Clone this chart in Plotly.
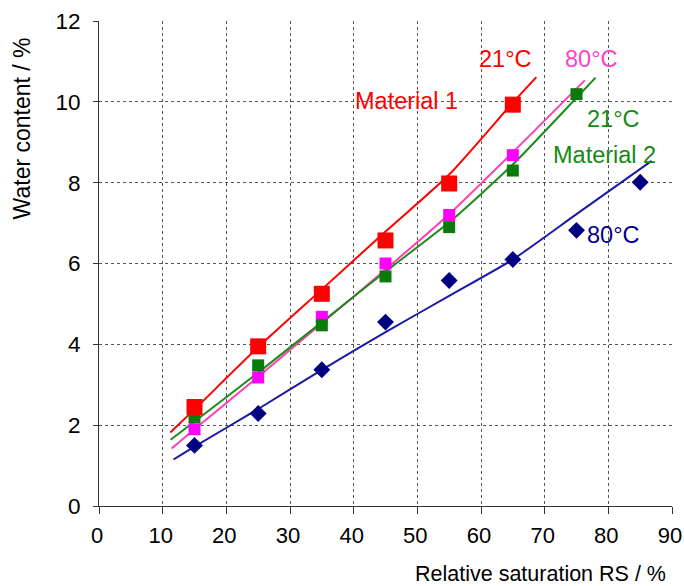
import plotly.graph_objects as go

# ---- measured data (x = relative saturation RS %, y = water content %) ----
x_m1 = [15, 25, 35, 45, 55, 65]
y_m1_21 = [2.45, 3.95, 5.25, 6.57, 7.98, 9.93]
y_m1_80 = [1.90, 3.18, 4.68, 6.00, 7.20, 8.68]

x_m2_21 = [15, 25, 35, 45, 55, 65, 75]
y_m2_21 = [2.20, 3.48, 4.47, 5.68, 6.90, 8.30, 10.19]

x_m2_80 = [15, 25, 35, 45, 55, 65, 75, 85]
y_m2_80 = [1.50, 2.29, 3.37, 4.55, 5.58, 6.10, 6.82, 8.01]

# ---- model curves ----
cx_m1_21 = [11.2, 15, 25, 35, 45, 55, 65, 68.7]
cy_m1_21 = [1.82, 2.39, 3.93, 5.36, 6.79, 8.20, 9.98, 10.61]

cx_m1_80 = [11.4, 15, 25, 35, 45, 55, 65, 76.3]
cy_m1_80 = [1.42, 1.90, 3.20, 4.52, 5.85, 7.22, 8.75, 10.53]

cx_m2_21 = [11.25, 15, 25, 35, 45, 55, 65, 75, 78.0]
cy_m2_21 = [1.64, 2.09, 3.30, 4.55, 5.80, 7.02, 8.45, 10.10, 10.60]

cx_m2_80 = [11.7, 15, 25, 35, 45, 55, 65, 75, 86.8]
cy_m2_80 = [1.15, 1.47, 2.40, 3.37, 4.30, 5.20, 6.10, 7.22, 8.54]

x_ticks = [0, 10, 20, 30, 40, 50, 60, 70, 80, 90]
y_ticks = [0, 2, 4, 6, 8, 10, 12]

FONT = "Liberation Sans, Arial, sans-serif"
RED = "#FF0000"
MAG = "#FF00FF"
PINK = "#FF3FB0"
GREEN_M = "#0A7A0A"
GREEN_L = "#1A8C1A"
NAVY = "#000080"
BLUE_L = "#1A1AA6"

fig = go.Figure()

# curves
for cx, cy, col in [(cx_m2_80, cy_m2_80, BLUE_L), (cx_m1_80, cy_m1_80, PINK),
                    (cx_m2_21, cy_m2_21, GREEN_L), (cx_m1_21, cy_m1_21, RED)]:
    fig.add_trace(go.Scatter(x=cx, y=cy, mode="lines", line=dict(color=col, width=2, shape="spline", smoothing=0.6),
                             showlegend=False, hoverinfo="skip"))

# markers
fig.add_trace(go.Scatter(x=x_m2_80, y=y_m2_80, mode="markers",
                         marker=dict(symbol="diamond", size=13, color=NAVY), showlegend=False))
fig.add_trace(go.Scatter(x=x_m1, y=y_m1_80, mode="markers",
                         marker=dict(symbol="square", size=12, color=MAG), showlegend=False))
fig.add_trace(go.Scatter(x=x_m2_21, y=y_m2_21, mode="markers",
                         marker=dict(symbol="square", size=12, color=GREEN_M), showlegend=False))
fig.add_trace(go.Scatter(x=x_m1, y=y_m1_21, mode="markers",
                         marker=dict(symbol="square", size=16, color=RED), showlegend=False))

labels = [
    ("21°C", 63.9, 11.05, RED),
    ("Material 1", 48.35, 10.01, RED),
    ("80°C", 77.4, 11.05, "#FF40C8"),
    ("21°C", 80.85, 9.57, "#148A14"),
    ("Material 2", 79.4, 8.68, "#148A14"),
    ("80°C", 80.85, 6.70, "#00008C"),
]
for t, ax, ay, col in labels:
    fig.add_annotation(x=ax, y=ay, text=t, showarrow=False, xanchor="center", yanchor="middle",
                       font=dict(family=FONT, size=23.5, color=col), bgcolor="rgba(255,255,255,0)")

fig.add_annotation(xref="paper", yref="paper", x=0.993, y=-0.141, text="Relative saturation RS / %",
                   showarrow=False, xanchor="right", yanchor="middle",
                   font=dict(family=FONT, size=21.5, color="#000000"))
fig.add_annotation(xref="paper", yref="paper", x=-0.134, y=0.779, text="Water content / %",
                   showarrow=False, xanchor="center", yanchor="middle", textangle=-90,
                   font=dict(family=FONT, size=23, color="#000000"))

fig.update_layout(
    width=684, height=586,
    margin=dict(l=99, r=12, t=21, b=80, autoexpand=False),
    paper_bgcolor="white", plot_bgcolor="white",
    font=dict(family=FONT, size=23, color="#000000"),
    showlegend=False,
)
fig.update_xaxes(range=[0, 90], tickvals=x_ticks, ticktext=[str(v) for v in x_ticks],
                 showgrid=True, gridcolor="#555555", griddash="dot", gridwidth=1,
                 showline=True, linecolor="#333333", linewidth=1,
                 ticks="outside", ticklen=7, tickcolor="#333333",
                 ticklabelstandoff=3, ticklabelshift=-2, automargin=False,
                 zeroline=False, tickfont=dict(size=22))
fig.update_yaxes(range=[0, 12], tickvals=y_ticks, ticktext=[str(v) for v in y_ticks],
                 showgrid=True, gridcolor="#555555", griddash="dot", gridwidth=1,
                 showline=True, linecolor="#333333", linewidth=1,
                 ticks="outside", ticklen=5, tickcolor="#333333",
                 ticklabelstandoff=8, automargin=False,
                 zeroline=False, tickfont=dict(size=22.5))

fig.write_html("out.html", config={"displayModeBar": False},
               post_script="document.body.style.margin='0';")
